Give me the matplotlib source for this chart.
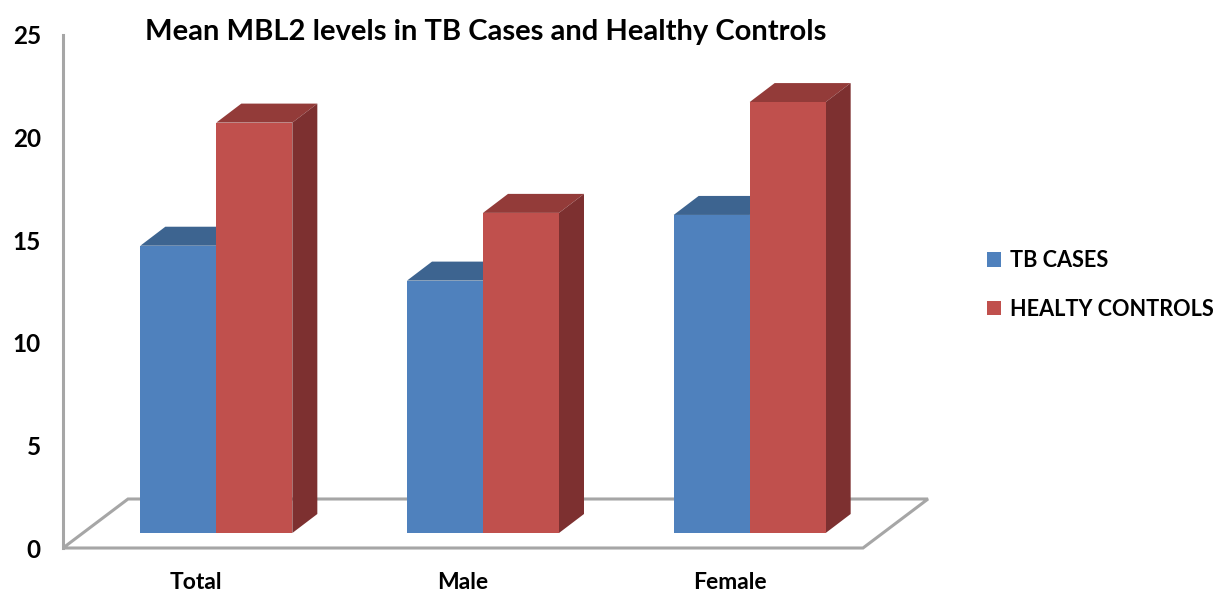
import matplotlib
matplotlib.use('Agg')
import matplotlib.pyplot as plt
from matplotlib.patches import Polygon, Patch

# ---- data ----
categories = ['Total', 'Male', 'Female']
tb_cases = [14.0, 12.3, 15.5]
healthy_controls = [20.0, 15.6, 21.0]
series_names = ['TB CASES', 'HEALTY CONTROLS']
y_ticks = [0, 5, 10, 15, 20, 25]
title = 'Mean MBL2 levels in TB Cases and Healthy Controls'

plt.rcParams['font.family'] = ['Lato', 'DejaVu Sans']

W, H, DPI = 1216, 592, 100
fig = plt.figure(figsize=(W / DPI, H / DPI), dpi=DPI)
ax_l, ax_r, ax_b, ax_t = 63, 863, 548, 35
ax = fig.add_axes([ax_l / W, 1 - ax_b / H, (ax_r - ax_l) / W, (ax_b - ax_t) / H])
xlim = (-0.5, len(categories) - 0.5)
ylim = (0, 25)
ax.set_xlim(xlim)
ax.set_ylim(ylim)

ppx = (ax_r - ax_l) / (xlim[1] - xlim[0])   # pixels per x unit
ppy = (ax_b - ax_t) / (ylim[1] - ylim[0])   # pixels per y unit

def dx(px):
    return px / ppx

def dy(px):
    return px / ppy

grey = '#A6A6A6'
# floor
fdx, fdy = dx(65), dy(49)
floor = Polygon([(xlim[0], 0), (xlim[1], 0), (xlim[1] + fdx, fdy), (xlim[0] + fdx, fdy)],
                closed=True, facecolor='white', edgecolor=grey, lw=2.2, clip_on=False, zorder=1)
ax.add_patch(floor)

# bars
w = dx(76)
fox, foy = dx(20), dy(15)
bdx, bdy = dx(25), dy(19)
front_cols = ['#4F81BD', '#C0504D']
top_cols = ['#3D6490', '#933B39']
side_cols = ['#335580', '#7D3030']

z = 3
for i in range(len(categories)):
    for s, vals in enumerate([tb_cases, healthy_controls]):
        v = vals[i]
        L = i - w + s * w + fox
        R = L + w
        top = Polygon([(L, foy + v), (R, foy + v), (R + bdx, foy + v + bdy), (L + bdx, foy + v + bdy)],
                      closed=True, facecolor=top_cols[s], lw=0, zorder=z, clip_on=False)
        ax.add_patch(top)
        side = Polygon([(R, foy), (R + bdx, foy + bdy), (R + bdx, foy + bdy + v), (R, foy + v)],
                       closed=True, facecolor=side_cols[s], lw=0, zorder=z, clip_on=False)
        ax.add_patch(side)
        ax.bar(L, v, width=w, bottom=foy, align='edge', color=front_cols[s], lw=0, zorder=z + 1)
        z += 2

# axes styling
for sp in ['top', 'right', 'bottom']:
    ax.spines[sp].set_visible(False)
ax.spines['left'].set_color(grey)
ax.spines['left'].set_linewidth(2.2)
ax.spines['left'].set_zorder(0.5)
ax.set_yticks(y_ticks)
ax.set_yticklabels([str(t) for t in y_ticks], fontweight='bold')
ax.set_xticks(range(len(categories)))
ax.set_xticklabels(categories, fontweight='bold')
ax.tick_params(axis='y', length=0, pad=16, labelsize=17.5)
ax.tick_params(axis='x', length=0, pad=17, labelsize=16.5)
ax.patch.set_alpha(0)

fig.text(486 / W, 1 - 32 / H, title, ha='center', va='center', fontsize=21, fontweight='bold')

handles = [Patch(facecolor=front_cols[0]), Patch(facecolor=front_cols[1])]
fig.legend(handles, series_names, loc='center left', bbox_to_anchor=(980 / W, 1 - 285 / H),
           frameon=False, handlelength=0.68, handleheight=0.68, handletextpad=0.4,
           labelspacing=1.25, prop={'size': 15.6, 'weight': 'bold'}, borderaxespad=0, borderpad=0.3)

fig.savefig('out.png', dpi=DPI)
